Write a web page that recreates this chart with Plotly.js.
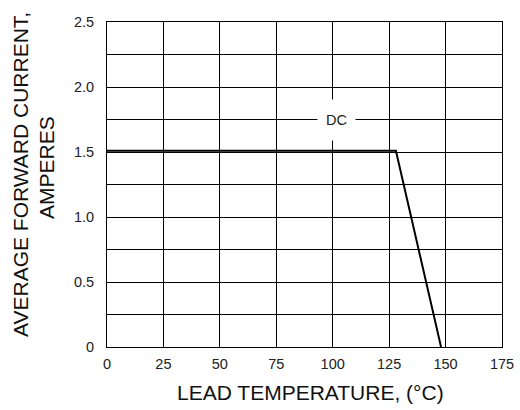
<!DOCTYPE html>
<html>
<head>
<meta charset="utf-8">
<script src="https://cdn.plot.ly/plotly-3.0.1.min.js"></script>
<style>html,body{margin:0;padding:0;background:#fff;}#chart{width:520px;height:410px;}</style>
</head>
<body>
<div id="chart"></div>
<script>
var leadTemp = [0, 128, 148];
var avgCurrent = [1.51, 1.51, 0];
var xTickVals = [0, 25, 50, 75, 100, 125, 150, 175];
var xTickText = ['0', '25', '50', '75', '100', '125', '150', '175'];
var yTickVals = [0, 0.25, 0.5, 0.75, 1.0, 1.25, 1.5, 1.75, 2.0, 2.25, 2.5];
var yTickText = ['0', '', '0.5', '', '1.0', '', '1.5', '', '2.0', '', '2.5'];
var labelText = 'DC';
var labelPos = [101.7, 1.745];
var xTitle = 'LEAD TEMPERATURE, (°C)';
var yTitleLines = ['AVERAGE FORWARD CURRENT,', 'AMPERES'];

var font = 'Liberation Sans, Arial, sans-serif';
var trace = {
  x: leadTemp, y: avgCurrent, mode: 'lines', type: 'scatter',
  line: {color: '#000', width: 2}, hoverinfo: 'skip', showlegend: false
};
var layout = {
  width: 520, height: 410,
  margin: {l: 107, r: 18, t: 22, b: 63},
  paper_bgcolor: '#fff', plot_bgcolor: '#fff',
  font: {family: font, color: '#222'},
  xaxis: {
    range: [0, 175], tickvals: xTickVals, ticktext: xTickText,
    showgrid: true, gridcolor: '#000', gridwidth: 1,
    showline: true, linecolor: '#000', linewidth: 1, mirror: true,
    zeroline: false, ticks: '', ticklabelstandoff: 4,
    tickfont: {size: 14.5, family: font, color: '#222'}
  },
  yaxis: {
    range: [0, 2.5], tickvals: yTickVals, ticktext: yTickText,
    showgrid: true, gridcolor: '#000', gridwidth: 1,
    showline: true, linecolor: '#000', linewidth: 1, mirror: true,
    zeroline: false, ticks: '', ticklabelstandoff: 9,
    tickfont: {size: 14.5, family: font, color: '#222'}
  },
  annotations: [{
    x: labelPos[0], y: labelPos[1], xref: 'x', yref: 'y', text: labelText,
    showarrow: false, bgcolor: '#fff', borderpad: 6, width: 25, height: 28,
    font: {size: 14.5, family: font, color: '#222'}
  }, {
    x: 0.516, y: -0.139, xref: 'paper', yref: 'paper', text: xTitle,
    showarrow: false, xanchor: 'center', yanchor: 'middle',
    font: {size: 21, family: font, color: '#111'}
  }, {
    x: (21 - 107) / 395, y: (347 - 175) / 325, xref: 'paper', yref: 'paper', text: yTitleLines[0],
    showarrow: false, textangle: -90, xanchor: 'center', yanchor: 'middle',
    font: {size: 21, family: font, color: '#111'}
  }, {
    x: (46 - 107) / 395, y: (347 - 168) / 325, xref: 'paper', yref: 'paper', text: yTitleLines[1],
    showarrow: false, textangle: -90, xanchor: 'center', yanchor: 'middle',
    font: {size: 21, family: font, color: '#111'}
  }]
};
Plotly.newPlot('chart', [trace], layout, {displayModeBar: false, staticPlot: true});
</script>
</body>
</html>
